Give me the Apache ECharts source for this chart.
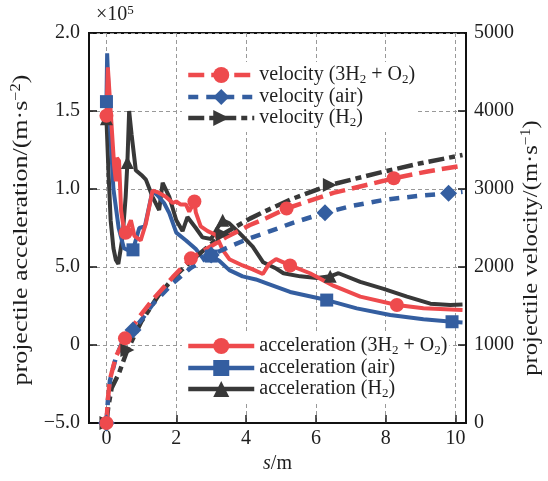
<!DOCTYPE html>
<html><head><meta charset="utf-8">
<script src="https://cdn.jsdelivr.net/npm/echarts@6/dist/echarts.min.js"></script>
<style>html,body{margin:0;padding:0;background:#fff}#c{width:548px;height:481px}</style>
</head><body><div id="c"></div>
<script>
// x axis (s / m)
const xTicks = [0, 2, 4, 6, 8, 10];
// left axis: acceleration in units of 1e4 m/s^2 (labels as printed in the original)
const accTickValues = [-5, 0, 5, 10, 15, 20];
const accTickLabels = ['\u22125.0', '0', '5.0', '1.0', '1.5', '2.0'];
// right axis ticks (m/s)
const velTicks = [0, 1000, 2000, 3000, 4000, 5000];

// acceleration [s (m), a (x1e4 m/s^2)]
const accMix = [[0,14.7],[0.04,17.8],[0.12,15.0],[0.22,11.5],[0.27,10.5],[0.3,12.0],[0.36,11.8],[0.42,8.6],[0.5,7.4],[0.55,7.2],[0.7,8.0],[0.8,7.0],[0.98,6.7],[1.13,7.8],[1.32,9.9],[1.46,9.8],[1.7,9.5],[1.9,9.1],[2.0,9.2],[2.13,9.0],[2.28,9.0],[2.37,8.55],[2.52,9.2],[2.56,8.5],[2.7,7.6],[2.9,7.3],[3.14,7.05],[3.33,6.1],[3.52,5.5],[3.9,5.1],[4.19,4.85],[4.48,4.55],[4.66,5.2],[4.86,5.5],[5.26,5.1],[5.83,4.6],[6.5,3.8],[7.27,3.1],[8.32,2.56],[9.08,2.35],[10.2,2.24]];
const accAir = [[0,15.6],[0.02,18.7],[0.1,14.0],[0.2,10.0],[0.35,7.5],[0.5,6.2],[0.6,6.1],[0.76,6.1],[0.94,7.5],[1.1,7.6],[1.32,9.9],[1.46,9.6],[1.65,9.1],[1.8,8.45],[2.0,7.2],[2.28,6.7],[2.56,6.15],[2.75,5.6],[3.0,5.7],[3.23,5.4],[3.52,4.8],[3.9,4.4],[4.28,4.2],[4.59,3.95],[5.26,3.4],[6.31,2.88],[7.17,2.35],[8.13,1.92],[9.08,1.65],[9.9,1.49],[10.2,1.45]];
const accH2 = [[0,14.5],[0.06,11.0],[0.12,8.0],[0.2,6.2],[0.27,5.45],[0.34,5.2],[0.46,6.9],[0.55,9.5],[0.6,11.7],[0.65,15.0],[0.72,13.5],[0.84,11.2],[1.0,10.9],[1.13,10.6],[1.32,9.5],[1.51,8.65],[1.61,10.4],[1.8,9.5],[2.0,8.0],[2.18,7.3],[2.32,8.2],[2.56,7.5],[2.75,6.9],[3.0,6.8],[3.18,7.5],[3.33,8.0],[3.52,7.8],[3.8,7.2],[4.19,6.3],[4.49,5.3],[4.86,4.9],[5.07,4.6],[5.55,4.4],[6.03,4.3],[6.41,4.4],[6.65,4.6],[7.27,4.05],[7.94,3.6],[8.61,3.1],[9.28,2.65],[9.85,2.56],[10.2,2.6]];

// velocity [s (m), v (m/s)]
const velMix = [[0,0],[0.04,300],[0.1,560],[0.27,850],[0.53,1085],[0.94,1360],[1.32,1580],[1.9,1870],[2.42,2111],[3.42,2380],[4.11,2538],[4.57,2625],[5.16,2750],[6.5,2950],[7.94,3105],[8.23,3137],[9.2,3225],[10.2,3300]];
const velAir = [[0,0],[0.04,280],[0.1,540],[0.27,840],[0.5,1080],[0.76,1192],[1.0,1320],[1.32,1520],[1.9,1790],[2.42,1990],[3.0,2154],[3.62,2280],[4.11,2370],[4.57,2440],[5.3,2560],[6.26,2696],[7.0,2780],[7.94,2860],[8.9,2910],[9.8,2944],[10.2,2965]];
const velH2 = [[0,0],[0.05,200],[0.15,450],[0.36,640],[0.6,936],[1.0,1300],[1.51,1650],[2.0,1900],[2.56,2130],[3.33,2420],[4.11,2620],[4.57,2720],[5.3,2870],[6.4,3051],[7.94,3222],[9.0,3330],[10.2,3436]];

// which points carry a marker
const markMix = [0, 9, 22, 34, 38];
const markAir = [0, 7, 18, 25, 29];
const markH2 = [0, 8, 25, 34];
const markVMix = [0, 4, 8, 12, 15];
const markVAir = [0, 5, 10, 15, 19];
const markVH2 = [0, 4, 9, 13];

const RED = '#ee4a4d', BLUE = '#345ea0', BLACK = '#383838';
const FONT = 'Liberation Serif';
const TXT = '#1e1e1e';

function mk(name, data, color, symbol, size, marks, yIdx, dash, rot) {
  return {
    name, type: 'line', data, yAxisIndex: yIdx,
    symbol, symbolRotate: rot || 0,
    symbolSize: (v, p) => marks.includes(p.dataIndex) ? size : 0,
    showSymbol: true, showAllSymbol: true, smooth: false,
    lineStyle: { color, width: yIdx ? 4.5 : 4, type: dash || 'solid', cap: 'butt' },
    itemStyle: { color, borderWidth: 0 },
    emphasis: { disabled: true }, animation: false
  };
}

const subName = {
  'velocity (3H2 + O2)': '{n|velocity (3H}{s|2}{n| + O}{s|2}{n|)}',
  'velocity (air)': '{n|velocity (air)}',
  'velocity (H2)': '{n|velocity (H}{s|2}{n|)}',
  'acceleration (3H2 + O2)': '{n|acceleration (3H}{s|2}{n| + O}{s|2}{n|)}',
  'acceleration (air)': '{n|acceleration (air)}',
  'acceleration (H2)': '{n|acceleration (H}{s|2}{n|)}'
};
const legendText = {
  fontFamily: FONT, fontSize: 20, color: TXT,
  rich: {
    n: { fontFamily: FONT, fontSize: 20, color: TXT, lineHeight: 22 },
    s: { fontFamily: FONT, fontSize: 13, color: TXT, lineHeight: 12, verticalAlign: 'bottom' }
  }
};
function legend(top, names) {
  return {
    data: names, orient: 'vertical', left: 182, top, itemWidth: 66, itemHeight: 20, itemGap: 1,
    backgroundColor: '#fff', padding: [3, 2, 3, 4],
    formatter: n => subName[n], textStyle: legendText,
    lineStyle: { width: 4.5 }, selectedMode: false
  };
}
const nameRich = {
  n: { fontFamily: FONT, fontSize: 22, fill: TXT, lineHeight: 24 },
  p: { fontFamily: FONT, fontSize: 14, fill: TXT, lineHeight: 13, verticalAlign: 'top' }
};

const chart = echarts.init(document.getElementById('c'), null, { renderer: 'canvas' });
chart.setOption({
  backgroundColor: '#fff',
  animation: false,
  grid: { left: 89, right: 82, top: 33, bottom: 58, show: true, borderColor: '#111', borderWidth: 2 },
  xAxis: {
    type: 'value', min: -0.5, max: 10.3,
    name: '{i|s}{n|/m}', nameLocation: 'middle', nameGap: 30,
    nameTextStyle: { rich: { i: { fontFamily: FONT, fontSize: 20, fontStyle: 'italic', color: TXT }, n: { fontFamily: FONT, fontSize: 20, color: TXT } } },
    axisLine: { onZero: false, lineStyle: { color: '#111', width: 2 } },
    axisTick: { inside: true, length: 8, customValues: xTicks, lineStyle: { color: '#222', width: 1.5 } },
    axisLabel: { customValues: xTicks, fontFamily: FONT, fontSize: 20, color: TXT, margin: 6 },
    splitLine: { show: true, lineStyle: { color: '#999', type: [4, 3], width: 1 } }
  },
  yAxis: [{
    type: 'value', min: -5, max: 20, interval: 5, position: 'left',
    axisLine: { show: true, onZero: false, lineStyle: { color: '#111', width: 2 } },
    axisTick: { show: true, inside: true, length: 8, lineStyle: { color: '#111', width: 1.5 } },
    axisLabel: { fontFamily: FONT, fontSize: 20, color: TXT, margin: 9,
      formatter: v => accTickLabels[accTickValues.indexOf(v)] },
    splitLine: { show: true, lineStyle: { color: '#999', type: [4, 3], width: 1 } }
  }, {
    type: 'value', min: velTicks[0], max: velTicks[velTicks.length - 1], interval: 1000, position: 'right',
    axisLine: { show: true, onZero: false, lineStyle: { color: '#111', width: 2 } },
    axisTick: { show: true, inside: true, length: 8, lineStyle: { color: '#111', width: 1.5 } },
    axisLabel: { fontFamily: FONT, fontSize: 20, color: TXT, margin: 8, formatter: v => String(v) },
    splitLine: { show: false }
  }],
  legend: [
    legend(62, ['velocity (3H2 + O2)', 'velocity (air)', 'velocity (H2)']),
    legend(333, ['acceleration (3H2 + O2)', 'acceleration (air)', 'acceleration (H2)'])
  ],
  graphic: [{
    type: 'text', left: 96, top: 4,
    style: { text: '{n|\u00d710}{p|5}', rich: { n: { fontFamily: FONT, fontSize: 20, fill: TXT, lineHeight: 22 }, p: { fontFamily: FONT, fontSize: 13, fill: TXT, lineHeight: 12, verticalAlign: 'top' } } }
  }, {
    type: 'text', x: 21, y: 230, rotation: Math.PI / 2, scaleX: 1.18,
    style: { text: '{n|projectile acceleration/(m\u00b7s}{p|\u22122}{n|)}', align: 'center', verticalAlign: 'middle', rich: nameRich }
  }, {
    type: 'text', x: 531, y: 248, rotation: Math.PI / 2, scaleX: 1.12,
    style: { text: '{n|projectile velocity/(m\u00b7s}{p|\u22121}{n|)}', align: 'center', verticalAlign: 'middle', rich: nameRich }
  }],
  series: [
    mk('acceleration (H2)', accH2, BLACK, 'triangle', 13, markH2, 0),
    mk('acceleration (air)', accAir, BLUE, 'rect', 13, markAir, 0),
    mk('acceleration (3H2 + O2)', accMix, RED, 'circle', 14, markMix, 0),
    mk('velocity (H2)', velH2, BLACK, 'triangle', 14, markVH2, 1, [16, 5, 6, 5], -90),
    mk('velocity (air)', velAir, BLUE, 'diamond', 17, markVAir, 1, [10, 8]),
    mk('velocity (3H2 + O2)', velMix, RED, 'circle', 14, markVMix, 1, [16, 7])
  ]
});
</script></body></html>
